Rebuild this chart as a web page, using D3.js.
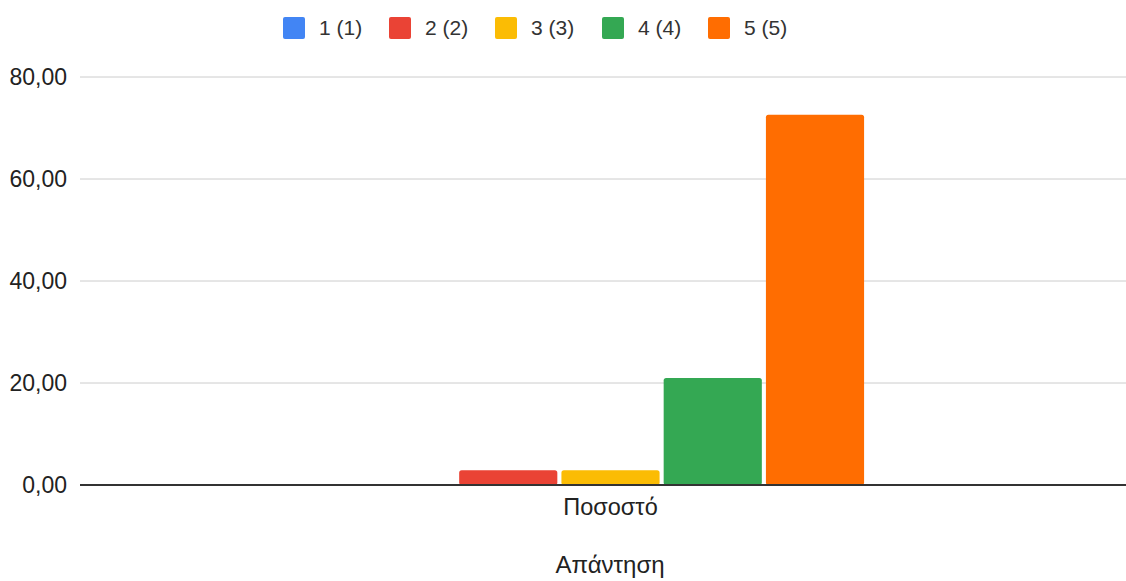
<!DOCTYPE html>
<html>
<head>
<meta charset="utf-8">
<script src="https://cdn.jsdelivr.net/npm/d3@7"></script>
<style>
  body { margin: 0; background: #fff; }
  text { font-family: Arial, "Liberation Sans", sans-serif; }
</style>
</head>
<body>
<svg id="chart"></svg>
<script>
// data
var categories = ["Ποσοστό"];
var seriesNames = ["1 (1)", "2 (2)", "3 (3)", "4 (4)", "5 (5)"];
var seriesValues = [0, 2.9, 2.9, 21.0, 72.6];
var seriesColors = ["#4285f4", "#ea4335", "#fbbc04", "#34a853", "#ff6d01"];
var yTicks = [0, 20, 40, 60, 80];
var xTitle = "Απάντηση";

var W = 1126, H = 581;
var margin = { top: 77, right: -15, bottom: 96, left: 80 },
    width = W - margin.left - margin.right,
    height = H - margin.top - margin.bottom;

var svg = d3.select("#chart")
    .attr("width", W)
    .attr("height", H);

var g = svg.append("g")
    .attr("transform", "translate(" + margin.left + "," + margin.top + ")");

// scales
var x0 = d3.scaleBand().domain(categories).range([0, width])
    .paddingInner(0).paddingOuter(0.546);
var x1 = d3.scaleBand().domain(seriesNames).range([0, x0.bandwidth()])
    .paddingInner(0.04).paddingOuter(0);
var y = d3.scaleLinear().domain([0, 80]).range([height, 0]);

var fmt = function(d) { return d3.format(".2f")(d).replace(".", ","); };

// gridlines
g.selectAll(".grid")
    .data(yTicks.filter(function(d) { return d !== 0; }))
    .enter().append("line")
    .attr("x1", 0).attr("x2", width)
    .attr("y1", function(d) { return y(d); })
    .attr("y2", function(d) { return y(d); })
    .attr("stroke", "#cccccc")
    .attr("stroke-width", 1);

// y labels
g.selectAll(".ylab")
    .data(yTicks)
    .enter().append("text")
    .attr("x", -13)
    .attr("y", function(d) { return y(d); })
    .attr("dy", "0.35em")
    .attr("text-anchor", "end")
    .style("font-size", "23px")
    .style("fill", "#222")
    .text(fmt);

// bars
var groups = g.selectAll(".cat")
    .data(categories)
    .enter().append("g")
    .attr("transform", function(d) { return "translate(" + x0(d) + ",0)"; });

groups.selectAll("rect")
    .data(seriesNames.map(function(n, i) { return { name: n, value: seriesValues[i], color: seriesColors[i] }; }))
    .enter().append("rect")
    .filter(function(d) { return d.value > 0; })
    .attr("x", function(d) { return x1(d.name); })
    .attr("y", function(d) { return y(d.value); })
    .attr("width", x1.bandwidth())
    .attr("height", function(d) { return height - y(d.value); })
    .attr("rx", 2.5)
    .attr("fill", function(d) { return d.color; });

// baseline
g.append("line")
    .attr("x1", 0).attr("x2", width)
    .attr("y1", y(0)).attr("y2", y(0))
    .attr("stroke", "#333")
    .attr("stroke-width", 2);

// category label
g.selectAll(".xlab")
    .data(categories)
    .enter().append("text")
    .attr("x", function(d) { return x0(d) + x0.bandwidth() / 2; })
    .attr("y", height + 30)
    .attr("text-anchor", "middle")
    .style("font-size", "23.5px")
    .style("fill", "#222")
    .text(function(d) { return d; });

// axis title
svg.append("text")
    .attr("x", 610)
    .attr("y", 573)
    .attr("text-anchor", "middle")
    .style("font-size", "24px")
    .style("fill", "#222")
    .text(xTitle);

// legend
var legendX = [283, 389, 495, 602, 708];
var legend = svg.selectAll(".legend")
    .data(seriesNames)
    .enter().append("g")
    .attr("transform", function(d, i) { return "translate(" + legendX[i] + ",17)"; });

legend.append("rect")
    .attr("width", 22).attr("height", 22)
    .attr("rx", 2)
    .attr("fill", function(d, i) { return seriesColors[i]; });

legend.append("text")
    .attr("x", 36)
    .attr("y", 11)
    .attr("dy", "0.35em")
    .style("font-size", "21px")
    .style("fill", "#333")
    .text(function(d) { return d; });
</script>
</body>
</html>
